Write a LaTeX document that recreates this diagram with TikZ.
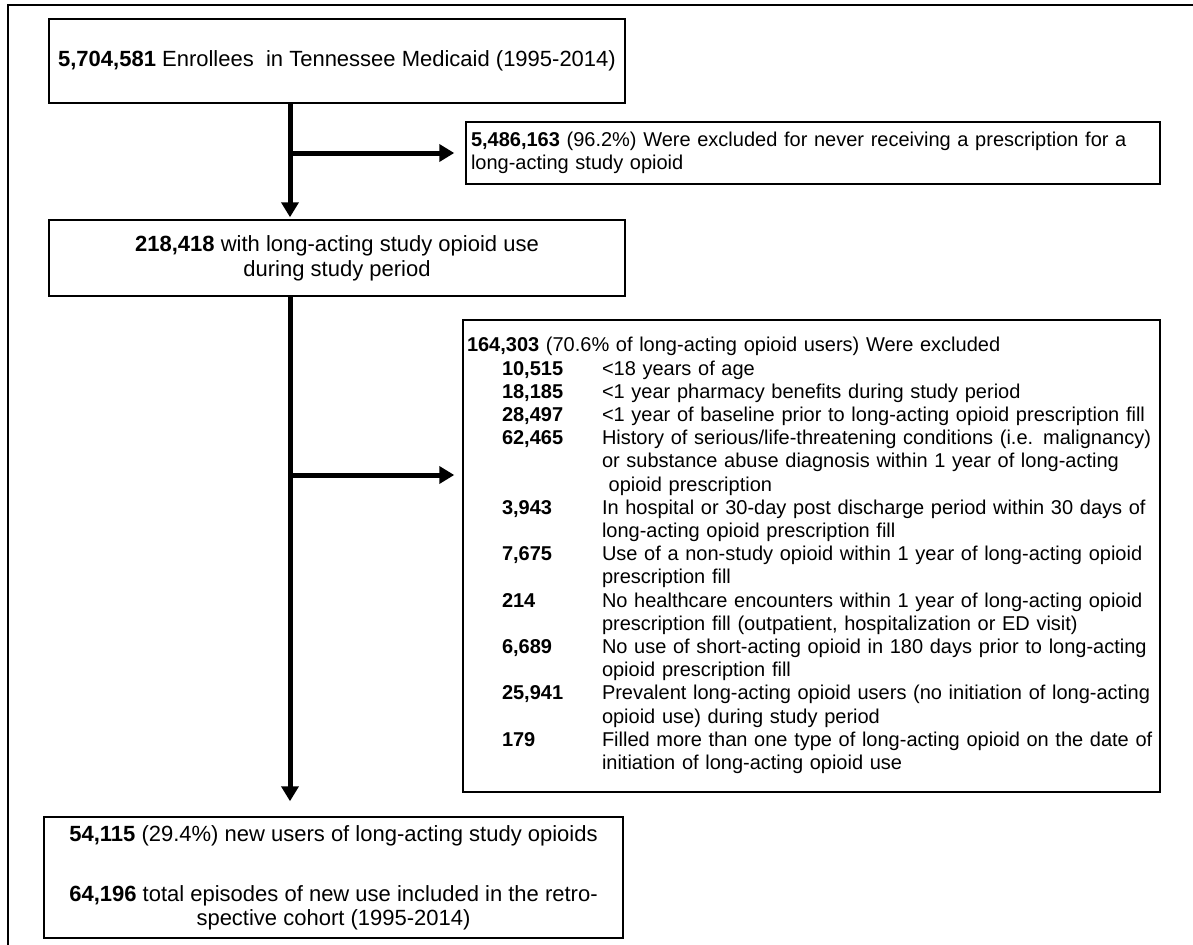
\documentclass[tikz,border=0pt]{standalone}
\usepackage{fontspec}
\setmainfont{Liberation Sans}
\usetikzlibrary{arrows.meta}
\newcommand{\stagefont}{\fontsize{12.52}{14.2}\selectfont}
\newcommand{\exclfont}{\fontsize{11.38}{13.2}\selectfont}

\begin{document}
\begin{tikzpicture}[
    stagebox/.style={draw, line width=0.03cm, inner sep=0pt, align=center, font=\stagefont},
    exclbox/.style={draw, line width=0.03cm, inner xsep=0.1cm, inner ysep=0pt, align=left, font=\exclfont},
    flow/.style={line width=0.1cm, -{Triangle[width=0.34cm,length=0.3cm]}}
]
\useasboundingbox (0,0) rectangle (23.86,-18.9);
\clip (0,0) rectangle (23.86,-18.9);

% outer frame
\draw[line width=0.045cm] (0.16,-0.1) rectangle (24.4,-19.4);

% main stages
\node[stagebox, minimum width=11.52cm, minimum height=1.68cm] (enroll) at (6.74,-1.22)
    {\textbf{5,704,581} Enrollees\ \ in Tennessee Medicaid (1995-2014)};
\node[stagebox, minimum width=11.52cm, minimum height=1.52cm] (cohort) at (6.74,-5.16)
    {\textbf{218,418} with long-acting study opioid use\\during study period};
\node[stagebox, minimum width=11.58cm, minimum height=2.42cm, font=\fontsize{12.52}{13.66}\selectfont] (final) at (6.67,-17.55)
    {\textbf{54,115} (29.4\%) new users of long-acting study opioids\\[0.72cm]
     \textbf{64,196} total episodes of new use included in the retro-\\spective cohort (1995-2014)};

% exclusions
\node[exclbox, text width=13.68cm, minimum height=1.24cm] (excl1) at (16.26,-3.06)
    {\textbf{5,486,163} (96.2\%) Were excluded for never receiving a prescription for a\\long-acting study opioid};
\node[exclbox, inner xsep=0.08cm, text width=13.78cm, minimum height=9.44cm] (excl2) at (16.23,-11.12) {%
\begin{tabular}{@{\hspace{0.7cm}}p{2cm}@{}l@{}}
\multicolumn{2}{@{}l@{}}{\textbf{164,303} (70.6\% of long-acting opioid users) Were excluded}\\
\textbf{10,515} & <18 years of age\\
\textbf{18,185} & <1 year pharmacy benefits during study period\\
\textbf{28,497} & <1 year of baseline prior to long-acting opioid prescription fill\\
\textbf{62,465} & History of serious/life-threatening conditions (i.e. malignancy)\\
                & or substance abuse diagnosis within 1 year of long-acting\\
                & \ opioid prescription\\
\textbf{3,943}  & In hospital or 30-day post discharge period within 30 days of\\
                & long-acting opioid prescription fill\\
\textbf{7,675}  & Use of a non-study opioid within 1 year of long-acting opioid\\
                & prescription fill\\
\textbf{214}    & No healthcare encounters within 1 year of long-acting opioid\\
                & prescription fill (outpatient, hospitalization or ED visit)\\
\textbf{6,689}  & No use of short-acting opioid in 180 days prior to long-acting\\
                & opioid prescription fill\\
\textbf{25,941} & Prevalent long-acting opioid users (no initiation of long-acting\\
                & opioid use) during study period\\
\textbf{179}    & Filled more than one type of long-acting opioid on the date of\\
                & initiation of long-acting opioid use
\end{tabular}};

% arrows
\coordinate (trunk) at (5.8,0);
\coordinate (fork2) at (5.8,-9.5);
\draw[flow, shorten >=0.04cm] (enroll.south -| trunk) -- (cohort.north -| trunk);
\draw[flow, shorten >=0.22cm] (trunk |- excl1.west) -- (excl1.west);
\draw[flow, shorten >=0.3cm] (cohort.south -| trunk) -- (final.north -| trunk);
\draw[flow, shorten >=0.16cm] (fork2) -- (fork2 -| excl2.west);

\end{tikzpicture}
\end{document}
